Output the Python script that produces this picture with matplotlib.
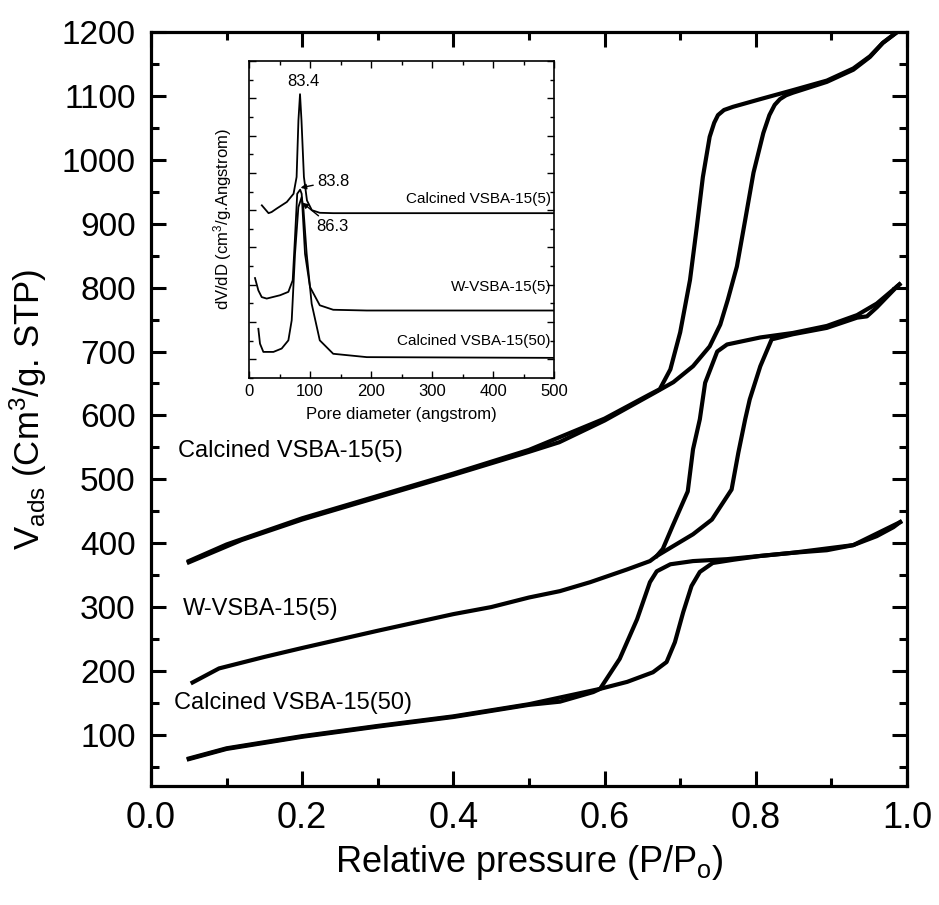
import matplotlib as mpl
mpl.use('Agg')
import matplotlib.pyplot as plt
from matplotlib import font_manager
from matplotlib.ticker import MultipleLocator

plt.rcParams['font.family'] = 'Liberation Sans'
plt.rcParams['mathtext.fontset'] = 'custom'
plt.rcParams['mathtext.rm'] = 'Liberation Sans'
plt.rcParams['mathtext.it'] = 'Liberation Sans'

# narrow face for the curve names if it is installed
try:
    font_manager.findfont('Liberation Sans Narrow', fallback_to_default=False)
    name_font, name_size = 'Liberation Sans Narrow', 20
except ValueError:
    name_font, name_size = 'Liberation Sans', 17

# isotherms: adsorption / desorption branches (P/Po, Vads)
c5_ads_x = [0.05, 0.08, 0.12, 0.2, 0.3, 0.4, 0.5, 0.54, 0.6, 0.667, 0.691, 0.717, 0.739, 0.753,
            0.763, 0.775, 0.786, 0.797, 0.810, 0.818, 0.825, 0.832, 0.840, 0.849, 0.894, 0.929,
            0.951, 0.968, 0.987]
c5_ads_y = [370, 385, 405, 437, 472, 507, 543, 558, 592, 636, 652, 677, 708, 742,
            781, 833, 906, 980, 1042, 1070, 1086, 1095, 1101, 1105, 1122, 1141,
            1161, 1183, 1200]
c5_des_x = [0.987, 0.968, 0.951, 0.929, 0.894, 0.849, 0.806, 0.770, 0.758, 0.750, 0.745, 0.739,
            0.730, 0.722, 0.713, 0.700, 0.687, 0.673, 0.660, 0.6, 0.5, 0.4, 0.3, 0.2, 0.1, 0.05]
c5_des_y = [1200, 1183, 1162, 1143, 1124, 1109, 1095, 1083, 1078, 1070, 1058, 1036,
            973, 895, 812, 730, 672, 641, 633, 595, 546, 509, 474, 439, 398, 372]

w5_ads_x = [0.055, 0.09, 0.15, 0.2, 0.3, 0.4, 0.45, 0.5, 0.541, 0.581, 0.630, 0.660, 0.669, 0.717,
            0.742, 0.768, 0.777, 0.786, 0.792, 0.806, 0.821, 0.849, 0.894, 0.934, 0.947, 0.960, 0.987, 0.99]
w5_ads_y = [182, 204, 222, 236, 263, 289, 300, 315, 325, 339, 359, 372, 380, 414,
            437, 484, 542, 594, 625, 677, 719, 727, 737, 753, 755, 769, 802, 805]
w5_des_x = [0.99, 0.96, 0.934, 0.894, 0.849, 0.806, 0.762, 0.749, 0.733, 0.726, 0.717, 0.710,
            0.690, 0.677, 0.669]
w5_des_y = [805, 775, 757, 740, 729, 722, 711, 700, 651, 594, 547, 481, 427, 391, 380]

c50_ads_x = [0.05, 0.1, 0.2, 0.3, 0.4, 0.5, 0.541, 0.585, 0.594, 0.630, 0.664, 0.682, 0.693, 0.704,
             0.715, 0.726, 0.743, 0.770, 0.806, 0.849, 0.894, 0.929, 0.960, 0.982, 0.991]
c50_ads_y = [62, 78, 97, 113, 128, 147, 152, 167, 172, 183, 198, 214, 245, 292,
             333, 355, 369, 374, 380, 385, 389, 397, 411, 425, 433]
c50_des_x = [0.991, 0.929, 0.849, 0.762, 0.717, 0.687, 0.669, 0.660, 0.643, 0.620, 0.594, 0.5,
             0.4, 0.3, 0.2, 0.1, 0.05]
c50_des_y = [433, 397, 385, 375, 372, 367, 356, 339, 281, 219, 172, 148, 129, 114, 98, 79, 63]

# pore size distribution (inset), arbitrary stacked units
psd_c5_x = [21, 32, 37, 45, 62, 73, 78, 81, 83.6, 86, 90, 95, 103, 116, 138, 250, 500]
psd_c5_y = [4.13, 3.92, 3.95, 4.04, 4.22, 4.44, 4.89, 6.41, 7.11, 6.41, 4.89, 4.26, 4.0, 3.93, 3.92, 3.92, 3.92]
psd_w5_x = [9.8, 15.3, 20.8, 29, 51, 64.5, 71.6, 75.4, 79, 83.8, 86.3, 91.8, 100, 116, 138, 193, 500]
psd_w5_y = [2.18, 1.85, 1.67, 1.63, 1.72, 1.81, 2.12, 3.28, 4.44, 4.55, 4.44, 2.83, 1.94, 1.45, 1.33, 1.31, 1.31]
psd_c50_x = [15.3, 18, 23.5, 40, 53.5, 64.5, 70, 75.4, 80.9, 86.3, 89, 94.5, 102.7, 116, 138, 193, 500]
psd_c50_y = [0.82, 0.42, 0.2, 0.2, 0.29, 0.51, 1.05, 2.83, 4.08, 4.35, 4.08, 2.83, 1.49, 0.51, 0.15, 0.06, 0.04]

fig = plt.figure(figsize=(9.39, 9.05), dpi=100)
ax = fig.add_axes([0.1608, 0.1315, 0.8051, 0.8331])

lw = 3
ax.plot(c5_ads_x, c5_ads_y, color='k', lw=lw)
ax.plot(c5_des_x, c5_des_y, color='k', lw=lw)
ax.plot(w5_ads_x, w5_ads_y, color='k', lw=lw)
ax.plot(w5_des_x, w5_des_y, color='k', lw=lw)
ax.plot(c50_ads_x, c50_ads_y, color='k', lw=lw)
ax.plot(c50_des_x, c50_des_y, color='k', lw=lw)

ax.set_xlim(0, 1.0)
ax.set_ylim(20, 1200)
ax.xaxis.set_major_locator(MultipleLocator(0.2))
ax.xaxis.set_minor_locator(MultipleLocator(0.1))
ax.yaxis.set_major_locator(MultipleLocator(100))
ax.yaxis.set_minor_locator(MultipleLocator(50))
ax.xaxis.set_major_formatter(mpl.ticker.FormatStrFormatter('%.1f'))
ax.tick_params(which='both', direction='in', top=True, right=True, width=2.2)
ax.tick_params(which='major', length=11)
ax.tick_params(which='minor', length=6)
ax.tick_params(axis='x', labelsize=26, pad=11)
ax.tick_params(axis='y', labelsize=24, pad=11)
for s in ax.spines.values():
    s.set_linewidth(2.3)

ax.set_xlabel('Relative pressure (P/P$_{\\rm o}$)', fontsize=26)
ax.xaxis.set_label_coords(0.5, -0.075)
ax.set_ylabel('V$_{\\rm ads}$ (Cm$^3$/g. STP)', fontsize=25)
ax.yaxis.set_label_coords(-0.135, 0.5)

ax.text(0.036, 545, 'Calcined VSBA-15(5)', fontsize=name_size, family=name_font, va='center', ha='left')
ax.text(0.042, 297, 'W-VSBA-15(5)', fontsize=name_size, family=name_font, va='center', ha='left')
ax.text(0.03, 150, 'Calcined VSBA-15(50)', fontsize=name_size, family=name_font, va='center', ha='left')

# inset: pore size distribution
ins = fig.add_axes([0.2652, 0.5823, 0.3248, 0.3503])
ins.plot(psd_c5_x, psd_c5_y, color='k', lw=1.3)
ins.plot(psd_w5_x, psd_w5_y, color='k', lw=1.3)
ins.plot(psd_c50_x, psd_c50_y, color='k', lw=1.3)
ins.set_xlim(0, 500)
ins.set_ylim(-0.5, 8.0)
ins.xaxis.set_major_locator(MultipleLocator(100))
ins.xaxis.set_minor_locator(MultipleLocator(50))
ins.yaxis.set_major_locator(MultipleLocator(1))
ins.yaxis.set_minor_locator(MultipleLocator(0.5))
ins.tick_params(which='both', direction='in', top=True, right=True, width=1)
ins.tick_params(which='major', length=5, labelsize=12, pad=4)
ins.tick_params(which='minor', length=3)
ins.tick_params(axis='y', labelleft=False)
for s in ins.spines.values():
    s.set_linewidth(1.2)
ins.set_xlabel('Pore diameter (angstrom)', fontsize=12)
ins.xaxis.set_label_coords(0.5, -0.09)
ins.set_ylabel('dV/dD (cm$^3$/g.Angstrom)', fontsize=12)
ins.yaxis.set_label_coords(-0.05, 0.5)

ins.text(495, 4.3, 'Calcined VSBA-15(5)', fontsize=11, ha='right', va='center')
ins.text(495, 1.95, 'W-VSBA-15(5)', fontsize=11, ha='right', va='center')
ins.text(495, 0.5, 'Calcined VSBA-15(50)', fontsize=11, ha='right', va='center')
ins.text(89, 7.45, '83.4', fontsize=12, ha='center', va='center')
ins.annotate('83.8', xy=(84.5, 4.6), xytext=(112, 4.78), fontsize=12, ha='left', va='center',
             arrowprops=dict(arrowstyle='-|>', color='k', lw=1, mutation_scale=8, shrinkA=1, shrinkB=0))
ins.annotate('86.3', xy=(87.5, 4.2), xytext=(110, 3.55), fontsize=12, ha='left', va='center',
             arrowprops=dict(arrowstyle='-|>', color='k', lw=1, mutation_scale=8, shrinkA=1, shrinkB=0))

plt.savefig('out.png', dpi=100)
